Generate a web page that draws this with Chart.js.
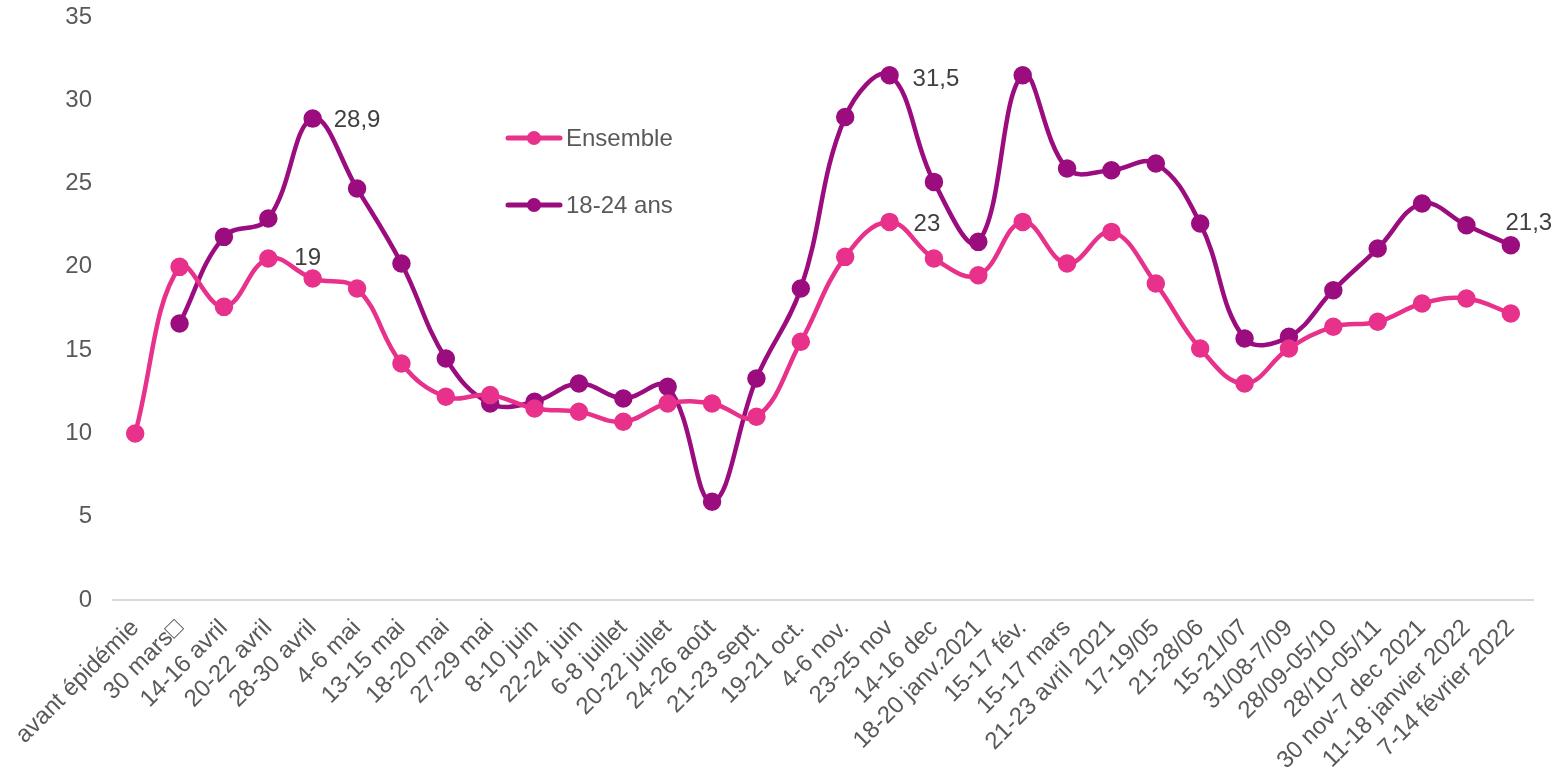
<!DOCTYPE html>
<html><head><meta charset="utf-8">
<script src="https://cdn.jsdelivr.net/npm/chart.js@4/dist/chart.umd.min.js"></script>
<style>html,body{margin:0;padding:0;background:#fff}#wrap{width:1562px;height:771px}</style>
</head><body><div id="wrap"><canvas id="c" width="1562" height="771"></canvas></div>
<script>
const categories = ["avant épidémie","30 mars\u25A1","14-16 avril","20-22 avril","28-30 avril","4-6 mai","13-15 mai","18-20 mai","27-29 mai","8-10 juin","22-24 juin","6-8 juillet","20-22 juillet","24-26 août","21-23 sept.","19-21 oct.","4-6 nov.","23-25 nov","14-16 dec","18-20 janv.2021","15-17 fév.","15-17 mars","21-23 avril 2021","17-19/05","21-28/06","15-21/07","31/08-7/09","28/09-05/10","28/10-05/11","30 nov-7 dec 2021","11-18 janvier 2022","7-14 février 2022"];
const ensemble = [10,20,17.6,20.5,19.3,18.7,14.2,12.2,12.3,11.5,11.3,10.7,11.8,11.8,11.0,15.5,20.6,22.7,20.5,19.5,22.7,20.2,22.1,19.0,15.1,13.0,15.1,16.4,16.7,17.8,18.1,17.2];
const jeunes = [null,16.6,21.8,22.9,28.9,24.7,20.2,14.5,11.8,11.9,13.0,12.1,12.8,5.9,13.3,18.7,29.0,31.5,25.1,21.5,31.5,25.9,25.8,26.2,22.6,15.7,15.8,18.6,21.1,23.8,22.5,21.3];
const yTicks = [0,5,10,15,20,25,30,35];
const ensembleLabels = {4:"19",17:"23"};
const jeunesLabels = {4:"28,9",17:"31,5",31:"21,3"};

const PINK = "#E8318B", PURPLE = "#9B0D7F", TXT = "#595959";
const FONT = "'Liberation Sans', Arial, sans-serif";
const FS = 24;

const labelPlugin = {
  id: "valueLabels",
  afterDatasetsDraw(chart) {
    const ctx = chart.ctx;
    ctx.save();
    ctx.font = FS + "px " + FONT;
    ctx.fillStyle = "#404040";
    ctx.textBaseline = "middle";
    const place = (dsIndex, map, offs) => {
      const meta = chart.getDatasetMeta(dsIndex);
      Object.keys(map).forEach(k => {
        const p = meta.data[+k];
        const o = offs[k];
        ctx.textAlign = o[2];
        ctx.fillText(map[k], p.x + o[0], p.y + o[1]);
      });
    };
    place(0, ensembleLabels, {4:[-5,-20,"center"],17:[24,2,"left"]});
    place(1, jeunesLabels, {4:[21,2,"left"],17:[23,4,"left"],31:[18,-22,"center"]});
    // legend
    const items = [[0,138],[1,205]];
    items.forEach(([i,y]) => {
      const ds = chart.data.datasets[i];
      ctx.strokeStyle = ds.borderColor; ctx.lineWidth = 5; ctx.lineCap = "round";
      ctx.beginPath(); ctx.moveTo(508,y); ctx.lineTo(560,y); ctx.stroke();
      ctx.fillStyle = ds.borderColor;
      ctx.beginPath(); ctx.arc(534,y,7,0,Math.PI*2); ctx.fill();
      ctx.fillStyle = TXT; ctx.textAlign = "left"; ctx.font = FS + "px " + FONT;
      ctx.fillText(ds.label, 566, y+1);
    });
    ctx.restore();
  }
};

new Chart(document.getElementById("c"), {
  type: "line",
  data: {
    labels: categories,
    datasets: [
      {label:"Ensemble", data: ensemble, borderColor: PINK, backgroundColor: PINK, pointBackgroundColor: PINK, pointBorderColor: PINK, borderWidth: 4.5, pointRadius: 7, tension: 0.4},
      {label:"18-24 ans", data: jeunes, borderColor: PURPLE, backgroundColor: PURPLE, pointBackgroundColor: PURPLE, pointBorderColor: PURPLE, borderWidth: 4.5, pointRadius: 7, tension: 0.4, spanGaps: false}
    ]
  },
  options: {
    responsive: false, animation: false, devicePixelRatio: 1,
    layout: {padding: {top: 17, right: 29, left: 0, bottom: 0}},
    plugins: {legend: {display: false}, tooltip: {enabled: false}},
    scales: {
      x: {
        offset: true,
        grid: {display: false, drawTicks: false},
        border: {display: true, color: "#D9D9D9", width: 2},
        ticks: {color: TXT, font: {family: FONT, size: FS}, minRotation: 45, maxRotation: 45, autoSkip: false, padding: 14},
        afterFit(s) { s.height = 171; s.paddingTop = 0; s.paddingRight = 0; }
      },
      y: {
        min: 0, max: 35,
        afterBuildTicks(s) { s.ticks = yTicks.map(v => ({value: v})); },
        grid: {display: false, drawTicks: false},
        border: {display: false},
        ticks: {color: TXT, font: {family: FONT, size: FS}, padding: 21},
        afterFit(s) { s.width = 113; s.paddingTop = 0; s.paddingBottom = 0; }
      }
    }
  },
  plugins: [labelPlugin]
});
</script></body></html>
